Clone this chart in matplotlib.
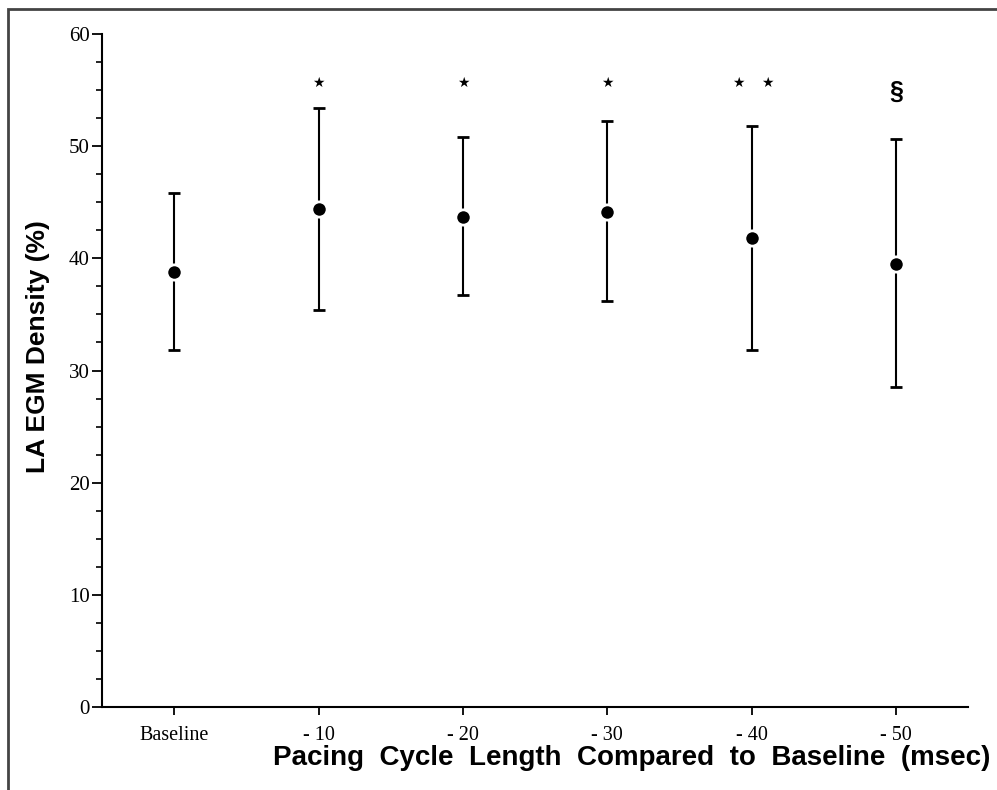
import numpy as np
import matplotlib
matplotlib.use("Agg")
import matplotlib.pyplot as plt
from matplotlib.patches import Rectangle
from matplotlib.ticker import MultipleLocator

# Data
categories = ["Baseline", "- 10", "- 20", "- 30", "- 40", "- 50"]
means = [38.8, 44.4, 43.7, 44.1, 41.8, 39.5]
upper = [45.8, 53.4, 50.8, 52.2, 51.8, 50.6]
lower = [31.8, 35.4, 36.7, 36.2, 31.8, 28.5]
marks = ["★", "★", "★", "★★", "§"]  # significance symbols for -10 .. -50

fig = plt.figure(figsize=(9.97, 7.9), dpi=100)
ax = fig.add_axes([0.1023, 0.105, 0.8687, 0.852])

x = np.arange(len(categories))
m = np.array(means)
yerr = [m - np.array(lower), np.array(upper) - m]
ax.errorbar(x, m, yerr=yerr, fmt="o", color="black", ms=11,
            mec="white", mew=2.0, elinewidth=1.5, capsize=4, capthick=1.5)

# significance marks above the bars
for i, s in enumerate(marks, start=1):
    if s == "★★":
        for dx in (-0.09, 0.11):
            ax.text(i + dx, 55.6, "★", ha="center", va="center",
                    fontsize=10, family="DejaVu Sans")
    elif s == "§":
        ax.text(i, 54.8, s, ha="center", va="center", fontsize=18,
                fontweight="bold", family="Liberation Sans")
    else:
        ax.text(i, 55.6, s, ha="center", va="center",
                fontsize=10, family="DejaVu Sans")

ax.set_xlim(-0.5, 5.5)
ax.set_ylim(0, 60)
ax.set_xticks(x)
ax.set_xticklabels(categories, family="Liberation Serif", fontsize=14.5)
ax.yaxis.set_major_locator(MultipleLocator(10))
ax.yaxis.set_minor_locator(MultipleLocator(2.5))
for lab in ax.get_yticklabels():
    lab.set_family("Liberation Serif")
    lab.set_fontsize(15)

ax.spines["top"].set_visible(False)
ax.spines["right"].set_visible(False)
ax.spines["left"].set_linewidth(1.5)
ax.spines["bottom"].set_linewidth(1.5)
ax.tick_params(axis="y", which="major", length=7, width=1.3, pad=2)
ax.tick_params(axis="y", which="minor", length=4, width=1.2)
ax.tick_params(axis="x", which="major", length=6, width=1.3, pad=8)

ax.set_ylabel("LA EGM Density (%)", family="Liberation Sans",
              fontweight="bold", fontsize=19)
ax.yaxis.set_label_coords(-0.06, 0.535)
ax.set_xlabel("Pacing  Cycle  Length  Compared  to  Baseline  (msec)",
              family="Liberation Sans", fontweight="bold", fontsize=20)
ax.xaxis.set_label_coords(0.612, -0.056)

# frame around the figure (cut off at right and bottom)
fig.patches.append(Rectangle((8 / 997, -0.05), 1.1, 1 - 9 / 790 + 0.05,
                             transform=fig.transFigure, fill=False,
                             edgecolor="#444444", linewidth=2.0))

fig.savefig("out.png", dpi=100)
